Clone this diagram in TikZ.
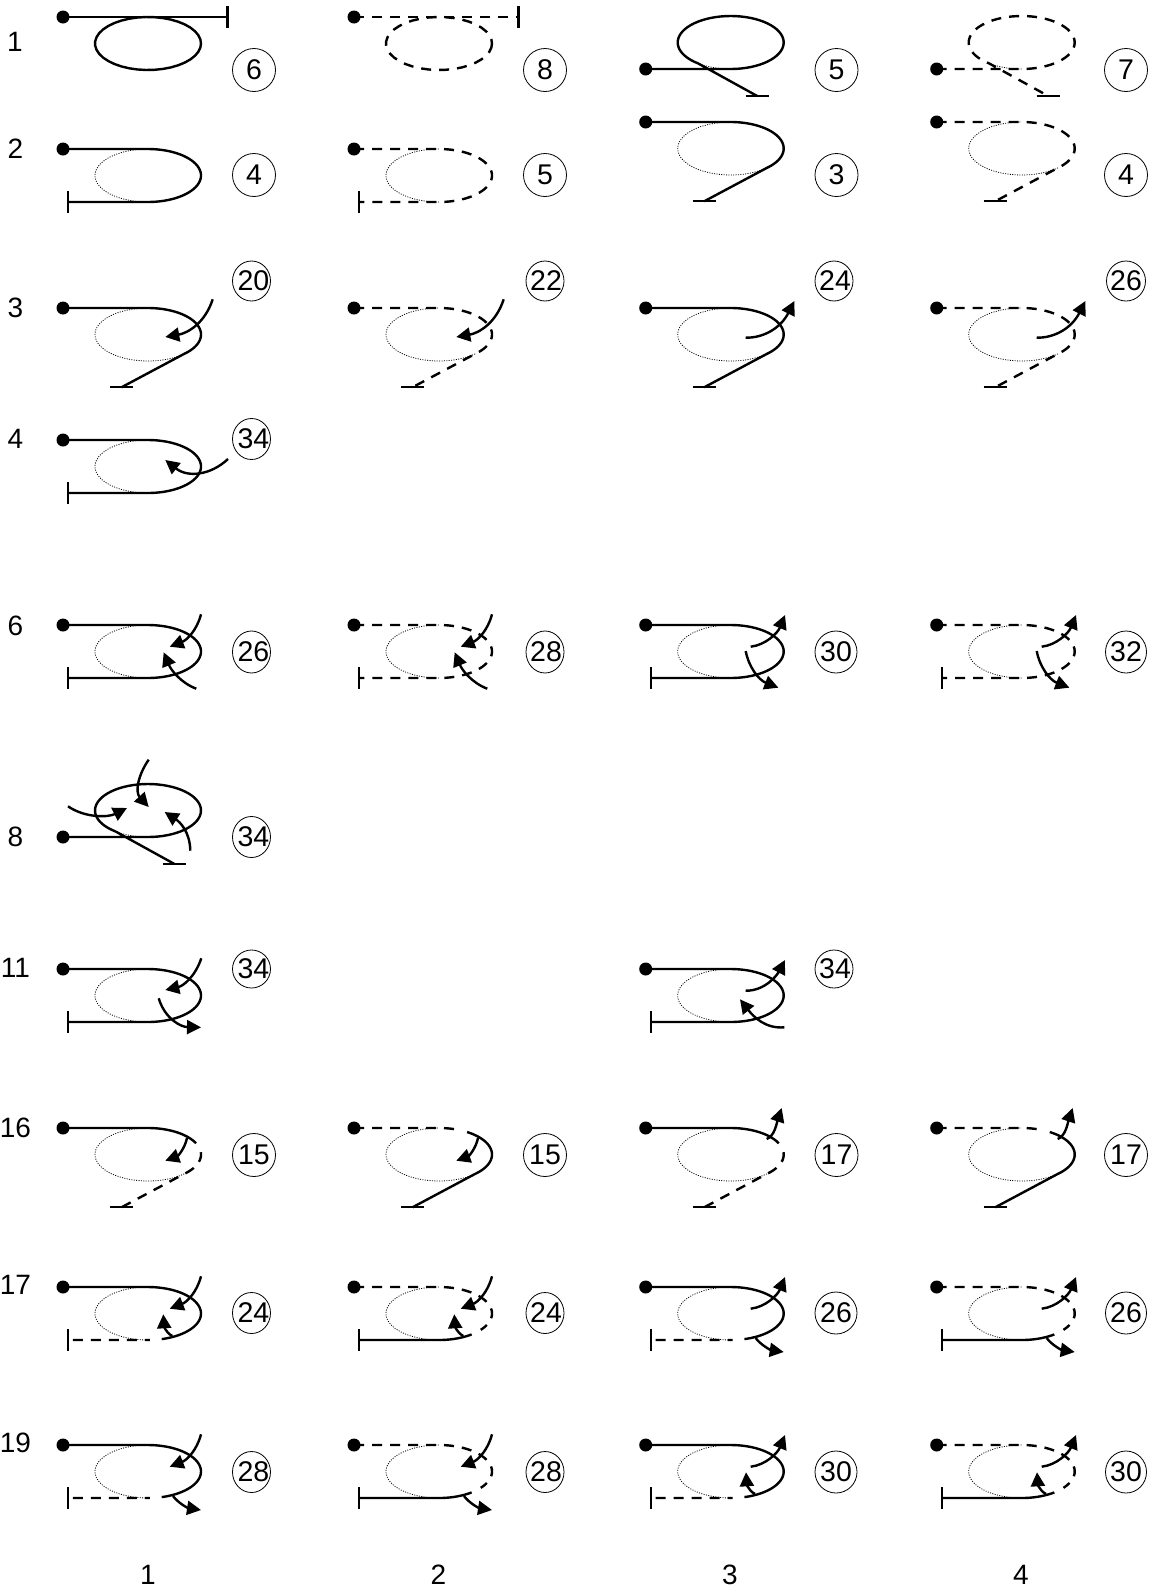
\documentclass[tikz,border=0pt]{standalone}
\usepackage{fontspec}
\setmainfont{Liberation Sans}
\usetikzlibrary{arrows.meta,shapes.geometric}
\tikzset{
  sol/.style={line width=2.4pt,line join=round},
  dsh/.style={line width=2.4pt,line join=round,dash pattern=on 10pt off 8pt},
  dshb/.style={line width=2.4pt,line join=round,dash pattern=on 10pt off 8pt,dash phase=5pt},
  dotl/.style={line width=0.8pt,dash pattern=on 1pt off 1.4pt,black},
  barl/.style={line width=2.2pt},
  arw/.style={line width=2.4pt,-{Triangle[length=14pt,width=14pt]}},
  dotn/.style={circle,fill=black,inner sep=0pt,minimum size=13pt},
  ringn/.style={ellipse,draw=black,line width=0.8pt,inner sep=0pt},
  numt/.style={inner sep=0pt,font=\fontsize{28.5}{32}\selectfont},
  labt/.style={inner sep=0pt,font=\fontsize{28}{30}\selectfont}
}
% ellipse pieces, local coordinates: dot at origin, ellipse below it
\newcommand\seg[5]{\draw[#1] #2 plot[domain=#3:#4,samples=40]({85+53*cos(\x)},{26.5+26.5*sin(\x)}) #5;}
\newcommand\gcell[4]{\begin{scope}[shift={(#2,#3)}]\def\cn{#1}\node[dotn] (#1) at (0,0) {};#4\end{scope}}
\newcommand\barB{\coordinate (\cn-b) at (5,53);\draw[barl] (5,42) -- (5,64);}
\newcommand\tickC{\coordinate (\cn-t) at (58.5,79.3);\draw[barl] (47,79.3) -- (70,79.3);}
\newcommand\tickD{\coordinate (\cn-t) at (111.5,27);\draw[barl] (100,27) -- (123,27);}
% loop above tail line
\newcommand\shA[1]{\coordinate (\cn-e) at (164.5,0);\draw[#1] (\cn.center) -- (\cn-e);\draw[barl] (164.5,-11) -- (164.5,11);\seg{#1}{}{0}{360}{}}
\newcommand\shB[1]{\seg{dotl}{}{90}{270}{}\barB\seg{#1}{(\cn.center) -- (85,0) --}{-90}{90}{-- (\cn-b)}}
\newcommand\shBm[4]{\seg{dotl}{}{90}{270}{}\barB\seg{#1}{(\cn.center) -- (85,0) --}{-90}{#3}{}\seg{#2}{}{#4}{90}{-- (\cn-b)}}
\newcommand\shC[1]{\seg{dotl}{}{47}{270}{}\tickC\seg{#1}{(\cn.center) -- (85,0) --}{-90}{47}{-- (\cn-t)}}
\newcommand\shCm[4]{\seg{dotl}{}{47}{270}{}\tickC\seg{#1}{(\cn.center) -- (85,0) --}{-90}{#3}{}\seg{#2}{}{#4}{47}{-- (\cn-t)}}
\newcommand\shD[1]{\tickD
  \draw[dotl] plot[domain=90:128,samples=10]({85+53*cos(\x)},{-26.5+26.5*sin(\x)});
  \draw[#1] (\cn.center) -- (85,0) -- plot[domain=90:-232,samples=60]({85+53*cos(\x)},{-26.5+26.5*sin(\x)}) -- (\cn-t);}
% arrows, local coordinates
\newcommand\arC{\draw[arw] (149.7,-8.7) .. controls (142,15) and (125,25) .. (102.3,29);}
\newcommand\arCo{\draw[arw] (100,29.7) .. controls (118,30) and (135,20) .. (148.7,-7);}
\newcommand\arIT{\draw[arw] (138,-10.7) .. controls (134,5) and (124,15) .. (106.7,21.7);}
\newcommand\arIB{\draw[arw] (133.3,63.7) .. controls (118,58) and (108,45) .. (100.7,27.3);}
\newcommand\arOT{\draw[arw] (105,21.7) .. controls (120,20) and (132,8) .. (139.3,-10);}
\newcommand\arOB{\draw[arw] (100,26) .. controls (103,42) and (113,55) .. (132.7,62.7);}
\newcommand\arIS{\draw[arw] (109.3,49) .. controls (102,45) and (101,38) .. (100.3,27.3);}
\newcommand\arOS{\draw[arw] (110,51) .. controls (115,58) and (125,63) .. (138,65);}
\newcommand\arQ{\draw[arw] (124,10) .. controls (122,20) and (115,28) .. (102.3,32.7);}
\newcommand\arQo{\draw[arw] (121,11) .. controls (129,8) and (131,-5) .. (136,-20);}
% numbered rings
\newcommand\ringat[7]{\node[ringn,minimum width=#4pt,minimum height=#5pt] (#1) at (#2,#3) {};\node[numt] (#1t) at (#6,#3) {#7};}
\begin{document}
\begin{tikzpicture}[x=1pt,y=-1pt]
\useasboundingbox (0,0) rectangle (1155,1591);
% row labels
\node[labt] (l1) at (15,42) {1};
\node[labt] (l2) at (15.5,149) {2};
\node[labt] (l3) at (15.5,307.5) {3};
\node[labt] (l4) at (15.5,439) {4};
\node[labt] (l6) at (15.5,626) {6};
\node[labt] (l8) at (15.5,837) {8};
\node[labt] (l11) at (15.5,968) {11};
\node[labt] (l16) at (15.5,1128) {16};
\node[labt] (l17) at (15.5,1285) {17};
\node[labt] (l19) at (15.5,1443) {19};
% column labels
\node[labt] (c1) at (148,1575) {1};
\node[labt] (c2) at (438.5,1575) {2};
\node[labt] (c3) at (730,1575) {3};
\node[labt] (c4) at (1021,1575) {4};
% row 1
\gcell{a1}{63}{17}{\shA{sol}}
\gcell{a2}{354}{17}{\shA{dsh}}
\gcell{a3}{645.7}{69}{\shD{sol}}
\gcell{a4}{936.7}{69}{\shD{dsh}}
\ringat{ra1}{254}{70}{43}{43}{254}{6}
\ringat{ra2}{545}{70}{43}{43}{545}{8}
\ringat{ra3}{836.5}{70}{43}{43}{836.5}{5}
\ringat{ra4}{1126}{70}{43}{43}{1126}{7}
% row 2
\gcell{b1}{63}{149}{\shB{sol}}
\gcell{b2}{354}{149}{\shB{dsh}}
\gcell{b3}{645.7}{122}{\shC{sol}}
\gcell{b4}{936.7}{122}{\shC{dsh}}
\ringat{rb1}{254}{175}{43}{43}{254}{4}
\ringat{rb2}{545}{175}{43}{43}{545}{5}
\ringat{rb3}{836.5}{175}{43}{43}{836.5}{3}
\ringat{rb4}{1126}{175}{43}{43}{1126}{4}
% row 3
\gcell{c1d}{63}{308}{\shC{sol}\arC}
\gcell{c2d}{354}{308}{\shC{dsh}\arC}
\gcell{c3d}{645.7}{308}{\shC{sol}\arCo}
\gcell{c4d}{936.7}{308}{\shC{dsh}\arCo}
\ringat{rc1}{251.5}{281}{38}{40}{253.5}{20}
\ringat{rc2}{545}{281}{38}{40}{546}{22}
\ringat{rc3}{834}{281}{38}{40}{835}{24}
\ringat{rc4}{1126}{281}{39}{40}{1126}{26}
% row 4
\gcell{d1}{63}{440}{\shB{sol}\draw[arw] (165,19) .. controls (148,35) and (125,38) .. (102.3,20);}
\ringat{rd1}{251.5}{439}{38}{41}{253.5}{34}
% row 6
\gcell{e1}{63}{625}{\shB{sol}\arIT\arIB}
\gcell{e2}{354}{625}{\shB{dsh}\arIT\arIB}
\gcell{e3}{645.7}{625}{\shB{sol}\arOT\arOB}
\gcell{e4}{936.7}{625}{\shB{dsh}\arOT\arOB}
\ringat{re1}{251.5}{652}{38}{42}{253.5}{26}
\ringat{re2}{545}{652}{38}{42}{546}{28}
\ringat{re3}{836}{652}{42}{42}{836}{30}
\ringat{re4}{1126}{652}{41}{42}{1126}{32}
% row 8
\gcell{f1}{63}{837}{\shD{sol}
  \draw[arw] (85.7,-77.3) .. controls (75,-62) and (72,-45) .. (85.7,-30);
  \draw[arw] (5,-30.7) .. controls (22,-19) and (45,-19.5) .. (64,-29);
  \draw[arw] (127.3,13.7) .. controls (127,-5) and (117,-15) .. (101.7,-25);}
\ringat{rf1}{251.5}{837}{38}{41}{253.5}{34}
% row 11
\gcell{g1}{63}{969}{\shB{sol}
  \draw[arw] (138.3,-10.7) .. controls (132,8) and (120,17) .. (102.3,21);
  \draw[arw] (95.7,29.3) .. controls (102,50) and (118,58) .. (138,58.3);}
\gcell{g3}{645.7}{969}{\shB{sol}
  \draw[arw] (100,21.7) .. controls (120,22) and (132,5) .. (139.3,-9);
  \draw[arw] (138.7,58.3) .. controls (120,60) and (108,48) .. (94.3,30.3);}
\ringat{rg1}{251.5}{969}{38}{38}{253.5}{34}
\ringat{rg3}{834}{969}{38}{38}{835}{34}
% row 16
\gcell{h1}{63}{1128}{\shCm{sol}{dsh}{-25}{-5}\arQ}
\gcell{h2}{354}{1128}{\shCm{dsh}{sol}{-70}{-58}\arQ}
\gcell{h3}{645.7}{1128}{\shCm{sol}{dsh}{-25}{-5}\arQo}
\gcell{h4}{936.7}{1128}{\shCm{dsh}{sol}{-70}{-58}\arQo}
\ringat{rh1}{254}{1155}{43}{43}{254}{15}
\ringat{rh2}{545}{1155}{43}{43}{545}{15}
\ringat{rh3}{836.5}{1155}{43}{43}{836.5}{17}
\ringat{rh4}{1126}{1155}{43}{43}{1126}{17}
% row 17
\gcell{i1}{63}{1287}{\shBm{sol}{dshb}{75}{88}\arIT\arIS}
\gcell{i2}{354}{1287}{\shBm{dsh}{sol}{38}{52}\arIT\arIS}
\gcell{i3}{645.7}{1287}{\shBm{sol}{dshb}{75}{88}\arOT\arOS}
\gcell{i4}{936.7}{1287}{\shBm{dsh}{sol}{38}{52}\arOT\arOS}
\ringat{ri1}{251.5}{1313}{38}{41}{253.5}{24}
\ringat{ri2}{545}{1313}{38}{41}{546}{24}
\ringat{ri3}{836}{1313}{42}{42}{836}{26}
\ringat{ri4}{1126}{1313}{41}{42}{1126}{26}
% row 19
\gcell{j1}{63}{1445}{\shBm{sol}{dshb}{75}{88}\arIT\arOS}
\gcell{j2}{354}{1445}{\shBm{dsh}{sol}{38}{52}\arIT\arOS}
\gcell{j3}{645.7}{1445}{\shBm{sol}{dshb}{75}{88}\arOT\arIS}
\gcell{j4}{936.7}{1445}{\shBm{dsh}{sol}{38}{52}\arOT\arIS}
\ringat{rj1}{251.5}{1472}{38}{41}{253.5}{28}
\ringat{rj2}{545}{1472}{38}{41}{546}{28}
\ringat{rj3}{836}{1472}{42}{42}{836}{30}
\ringat{rj4}{1126}{1472}{41}{42}{1126}{30}
\end{tikzpicture}
\end{document}
